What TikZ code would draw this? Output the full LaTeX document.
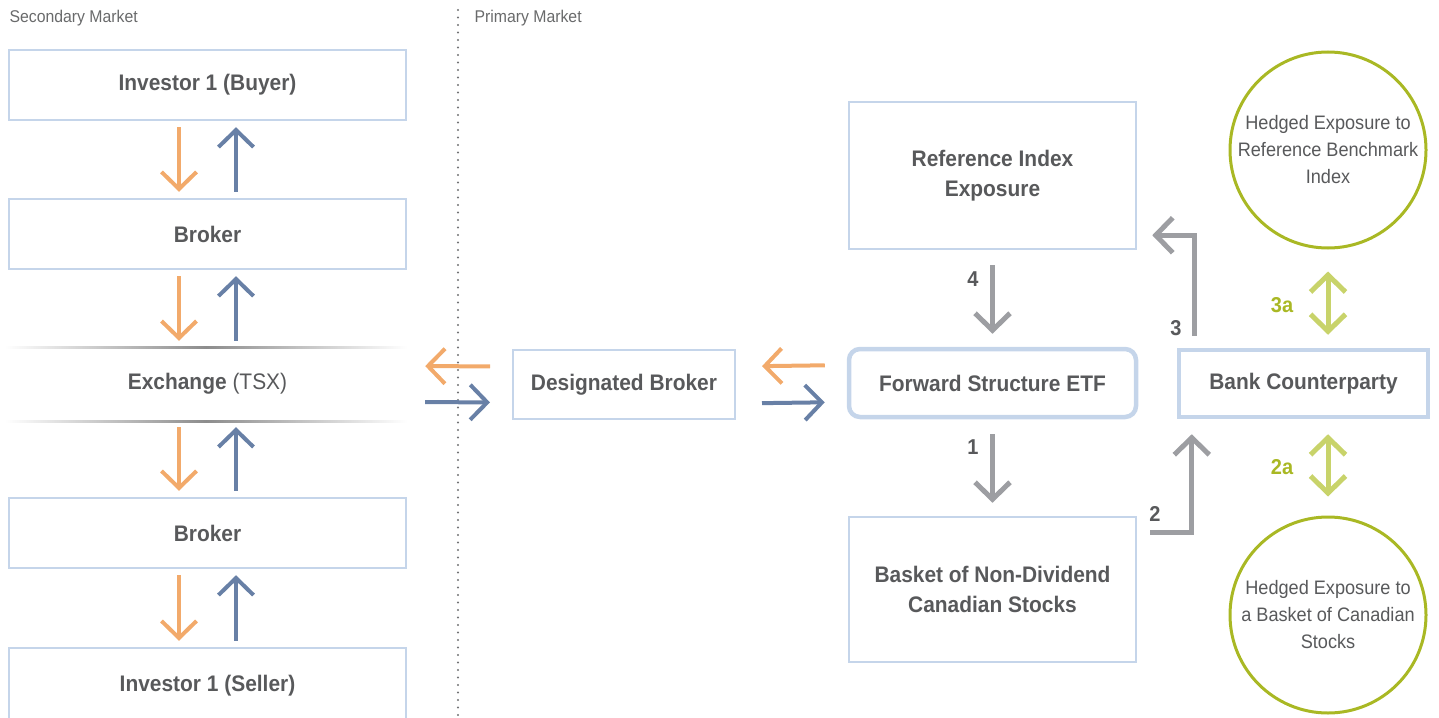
\documentclass[tikz,border=0pt]{standalone}
\usepackage{fontspec}
\setmainfont{Liberation Sans}[FakeStretch=0.93]
\usetikzlibrary{arrows.meta}
\definecolor{txtgray}{HTML}{58595B}
\definecolor{boxblue}{HTML}{C5D5EA}
\definecolor{orangearr}{HTML}{F2AA6B}
\definecolor{bluearr}{HTML}{6880A6}
\definecolor{grayarr}{HTML}{9D9EA2}
\definecolor{greencirc}{HTML}{A9B824}
\definecolor{greenarr}{HTML}{C8D36A}

\begin{document}
\begin{tikzpicture}[x=1pt,y=-1pt,>={Straight Barb[length=17pt,width=35pt]},
  box/.style={draw=boxblue,line width=2.5pt,text=txtgray,align=center,inner sep=0pt,
    font=\bfseries\fontsize{22.5}{30}\selectfont},
  thickbox/.style={box,line width=4.5pt},
  hedge/.style={circle,draw=greencirc,line width=3pt,minimum size=196pt,inner sep=0pt,
    text=txtgray,align=center,font=\fontsize{19.5}{27}\selectfont},
  oarr/.style={->,draw=orangearr,line width=4pt},
  barr/.style={->,draw=bluearr,line width=4pt},
  garr/.style={->,draw=grayarr,line width=5pt},
  grarr/.style={<->,draw=greenarr,line width=5pt},
  num/.style={text=txtgray,font=\bfseries\fontsize{21.5}{24}\selectfont},
  gnum/.style={text=greencirc,font=\bfseries\fontsize{21.5}{24}\selectfont},
  market/.style={text=txtgray!90,anchor=west,font=\fontsize{17}{18}\selectfont}]
  \useasboundingbox (0,0) rectangle (1439,717);

  \node[market] (sec) at (6,18) {Secondary Market};
  \node[market] (prim) at (471,18) {Primary Market};
  \draw[txtgray!85,line width=2.4pt,line cap=round,dash pattern=on 0pt off 7.5pt] (458,10) -- (458,717);

  \node[box,minimum width=397pt,minimum height=70pt] (buyer) at (207.5,85) {Investor 1 (Buyer)};
  \node[box,minimum width=397pt,minimum height=70pt] (brokerA) at (207.5,234) {Broker};
  \node[minimum width=399pt,minimum height=74pt,inner sep=0pt,text=txtgray,
    font=\fontsize{22.5}{30}\selectfont] (exch) at (207.5,384) {\textbf{Exchange} (TSX)};
  \node[box,minimum width=397pt,minimum height=70pt] (brokerB) at (207.5,533) {Broker};
  \node[box,minimum width=397pt,minimum height=76pt] (seller) at (207.5,686) {Investor 1 (Seller)};
  \shade[left color=white,right color=white,middle color=black!45] (5,346) rectangle (407,348);
  \shade[left color=white,right color=white,middle color=black!45] (5,420) rectangle (407,422);

  \foreach \a/\b in {buyer/brokerA,brokerA/exch,exch/brokerB,brokerB/seller}{
    \draw[oarr,shorten <=6pt,shorten >=6pt] ([xshift=-28.5pt]\a.south) -- ([xshift=-28.5pt]\b.north);
    \draw[barr,shorten <=6pt,shorten >=6pt] ([xshift=28.5pt]\b.north) -- ([xshift=28.5pt]\a.south);
  }

  \node[box,line width=2pt,minimum width=222pt,minimum height=69pt] (db) at (624,384.5) {Designated Broker};
  \node[thickbox,rounded corners=11pt,minimum width=287pt,minimum height=68pt] (etf) at (992.5,383) {Forward Structure ETF};
  \node[box,minimum width=287pt,minimum height=147pt] (ref) at (992.5,175.5) {Reference Index\\Exposure};
  \node[box,minimum width=287pt,minimum height=145pt] (basket) at (992.5,589.5) {Basket of Non-Dividend\\Canadian Stocks};
  \node[thickbox,minimum width=249pt,minimum height=67pt] (bank) at (1303.5,383.5) {Bank Counterparty};
  \node[hedge] (hedgeidx) at (1328,150) {Hedged Exposure to\\Reference Benchmark\\Index};
  \node[hedge] (hedgebsk) at (1328,615) {Hedged Exposure to\\a Basket of Canadian\\Stocks};

  \draw[oarr,shorten <=22pt,shorten >=18pt] ([yshift=18pt]db.west) -- ([yshift=18pt]exch.east);
  \draw[barr,shorten <=18pt,shorten >=22pt] ([yshift=-18pt]exch.east) -- ([yshift=-18pt]db.west);
  \draw[oarr,shorten <=22pt,shorten >=26pt] ([yshift=18pt]etf.west) -- ([yshift=18pt]db.east);
  \draw[barr,shorten <=26pt,shorten >=22pt] ([yshift=-19pt]db.east) -- ([yshift=-19pt]etf.west);

  \draw[garr,shorten <=15pt,shorten >=13pt] (ref.south) -- (etf.north);
  \node[num] (n4) at (973,279) {4};
  \draw[garr,shorten <=15pt,shorten >=13pt] (etf.south) -- (basket.north);
  \node[num] (n1) at (973,447) {1};
  \draw[garr] ([xshift=18pt,yshift=12pt]bank.north west) |- ([xshift=15pt,yshift=15pt]ref.south east);
  \node[num] (n3) at (1176,328) {3};
  \draw[garr] ([xshift=13pt,yshift=-17pt]basket.north east) -| ([xshift=15pt,yshift=-15pt]bank.south west);
  \node[num] (n2) at (1155,514) {2};

  \draw[grarr,shorten <=22pt,shorten >=13pt] (hedgeidx.south) -- (hedgeidx.south |- bank.north);
  \node[gnum] (n3a) at (1282,305) {3a};
  \draw[grarr,shorten <=15pt,shorten >=19pt] (hedgebsk.north |- bank.south) -- (hedgebsk.north);
  \node[gnum] (n2a) at (1282,467) {2a};
\end{tikzpicture}
\end{document}
